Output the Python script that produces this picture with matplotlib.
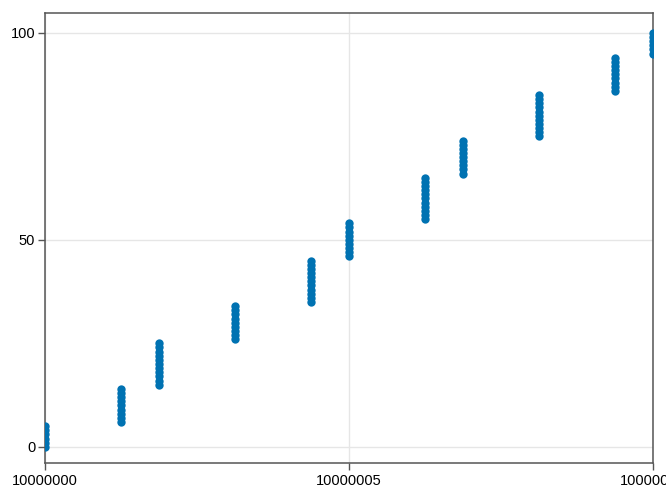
import matplotlib
matplotlib.use('Agg')
from matplotlib import pyplot as plt
import numpy as np

# x offset of each column above 10000000, and the y values it covers
base = 10000000
col_x = [0, 1.25, 1.875, 3.125, 4.375, 5, 6.25, 6.875, 8.125, 9.375, 10]
col_lo = [0, 6, 15, 26, 35, 46, 55, 66, 75, 86, 95]
col_hi = [5, 14, 25, 34, 45, 54, 65, 74, 85, 94, 100]

x_ticks = [10000000, 10000005, 10000010]
y_ticks = [0, 50, 100]

# expand the columns into points
xs = []
ys = []
for cx, lo, hi in zip(col_x, col_lo, col_hi):
    for y in range(lo, hi + 1):
        xs.append(base + cx)
        ys.append(y)
xs = np.array(xs)
ys = np.array(ys)

plt.rcParams['font.family'] = ['Liberation Sans', 'DejaVu Sans']

fig = plt.figure(figsize=(6.66, 5), dpi=100)
ax = fig.add_axes([45/666, 1 - 463/500, (653 - 45)/666, (463 - 13)/500])

ax.scatter(xs, ys, s=36, color='#0072B2', linewidths=0, zorder=3)

ax.set_xlim(base, base + 10)
ax.set_ylim(-3.9, 104.8)

ax.set_xticks(x_ticks)
ax.set_xticklabels([str(t) for t in x_ticks])
ax.set_yticks(y_ticks)
ax.set_yticklabels([str(t) for t in y_ticks])

ax.grid(True, color='#e6e6e6', linewidth=1)
ax.set_axisbelow(True)

for s in ax.spines.values():
    s.set_color('#555555')
    s.set_linewidth(1.1)

ax.tick_params(direction='out', length=5, width=1, color='#555555',
               labelsize=10.5, pad=2)
ax.tick_params(axis='x', pad=3)

plt.savefig('out.png', dpi=100)
